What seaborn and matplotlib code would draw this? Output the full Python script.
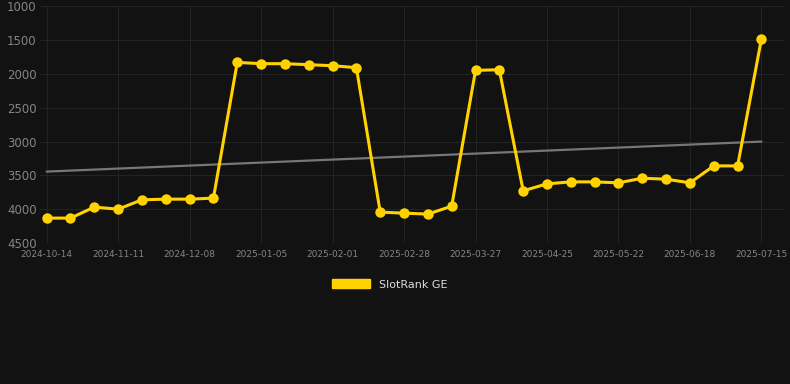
import numpy as np
import pandas as pd
import matplotlib
matplotlib.use('Agg')
import matplotlib.pyplot as plt
import seaborn as sns

# Ranking semanal (posições), eixo invertido
rank = [4131, 4131, 3969, 3999, 3861, 3851, 3851, 3836, 1831, 1850,
        1850, 1865, 1880, 1909, 4043, 4058, 4072, 3955, 1949, 1939,
        3728, 3625, 3596, 3596, 3610, 3542, 3556, 3610, 3360, 3360,
        1482]
tick_labels = ['2024-10-14', '2024-11-11', '2024-12-08', '2025-01-05',
               '2025-02-01', '2025-02-28', '2025-03-27', '2025-04-25',
               '2025-05-22', '2025-06-18', '2025-07-15']
tick_pos = [0, 3, 6, 9, 12, 15, 18, 21, 24, 27, 30]

df = pd.DataFrame({'idx': range(len(rank)), 'rank': rank})

# linha de tendência (regressão linear)
coef = np.polyfit(df['idx'], df['rank'], 1)
df['trend'] = np.polyval(coef, df['idx'])

bg = '#121212'
sns.set_style('dark')
fig = plt.figure(figsize=(7.9, 3.84), dpi=100, facecolor=bg)
ax = fig.add_axes([0.05, 0.367, 0.944, 0.617])
ax.set_facecolor(bg)

sns.lineplot(data=df, x='idx', y='trend', ax=ax, color='#777777', linewidth=1.6)
sns.lineplot(data=df, x='idx', y='rank', ax=ax, color='#ffd200', linewidth=2.2,
             marker='o', markersize=7.5, markeredgewidth=0, label='SlotRank GE')

ax.set_ylim(4500, 1000)
ax.set_xlim(-0.3, 31)
ax.set_yticks([1000, 1500, 2000, 2500, 3000, 3500, 4000, 4500])
ax.set_xticks(tick_pos)
ax.set_xticklabels(tick_labels)
ax.tick_params(axis='y', colors='#858585', labelsize=8.5, length=0, pad=2)
ax.tick_params(axis='x', colors='#858585', labelsize=6.5, length=0, pad=5)
ax.grid(True, color='#232323', linewidth=0.8)
for s in ax.spines.values():
    s.set_visible(False)
ax.set_xlabel('')
ax.set_ylabel('')

handles = [plt.Rectangle((0, 0), 1, 1, color='#ffd200')]
leg = ax.legend(handles, ['SlotRank GE'], loc='upper center', bbox_to_anchor=(0.47, -0.11),
                frameon=False, handlelength=3.4, handleheight=0.9, fontsize=8)
for t in leg.get_texts():
    t.set_color('#dddddd')

fig.savefig('out.png', facecolor=bg)
